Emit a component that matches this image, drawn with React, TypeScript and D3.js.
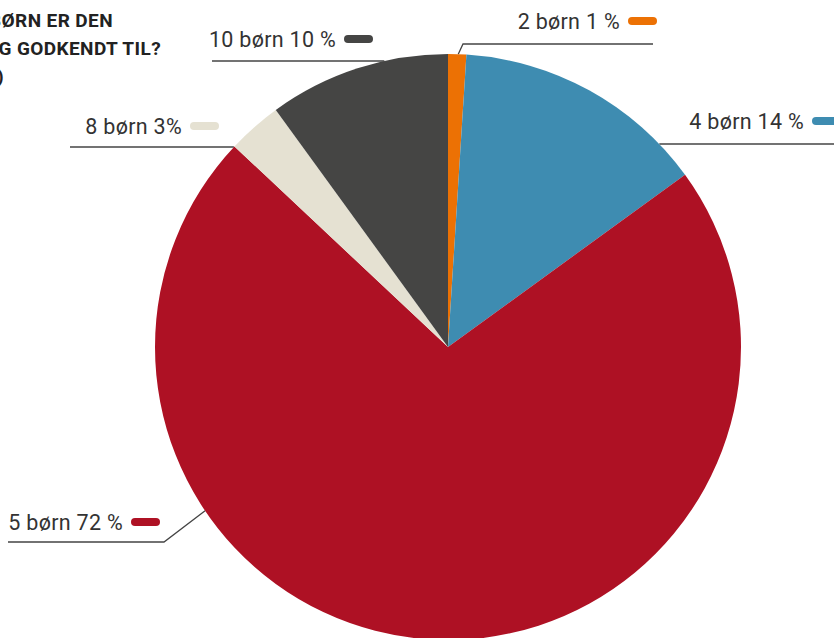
import React from "react";
import * as d3 from "d3";

const categories = ["2 børn", "4 børn", "5 børn", "8 børn", "10 børn"];
const percents = [1, 14, 72, 3, 10];
const percentLabels = ["1 %", "14 %", "72 %", "3%", "10 %"];
const colors = ["#EC7104", "#3E8CB1", "#AE1124", "#E5E1D2", "#454544"];
const titleLines = ["HVOR MANGE BØRN ER DEN", "KOMMUNALE DAGPLEJER OG GODKENDT TIL?", "(N=190)"];

// label layout: pill x, text baseline, leader line y, line far end x, optional elbow x and edge angle (deg)
const labelLayout = [
  { pillX: 628, baseline: 29, lineY: 44, farX: 653, elbowX: 463, edgeDeg: 2.0 },
  { pillX: 812, baseline: 129, lineY: 144, farX: 840, elbowX: null, edgeDeg: null },
  { pillX: 131, baseline: 530, lineY: 542, farX: 8, elbowX: 164, edgeDeg: 236 },
  { pillX: 190, baseline: 134, lineY: 147, farX: 70, elbowX: null, edgeDeg: null },
  { pillX: 344, baseline: 47, lineY: 61, farX: 212, elbowX: null, edgeDeg: null },
];

const W = 834;
const H = 638;
const cx = 448;
const cy = 347;
const R = 293;

export default function App() {
  const data = categories.map((c, i) => ({ c, v: percents[i], i }));
  const pie = d3.pie<any>().value((d) => d.v).sort(null).startAngle(0).endAngle(2 * Math.PI);
  const arcs = pie(data);
  const arc = d3.arc<any>().innerRadius(0).outerRadius(R);

  const leaders = labelLayout.map((l, i) => {
    let pts: [number, number][];
    if (l.elbowX !== null && l.edgeDeg !== null) {
      const a = (l.edgeDeg * Math.PI) / 180;
      const ex = cx + R * Math.sin(a);
      const ey = cy - R * Math.cos(a);
      pts = [
        [l.farX, l.lineY],
        [l.elbowX, l.lineY],
        [ex, ey],
      ];
    } else {
      const dy = l.lineY - cy;
      const dx = Math.sqrt(Math.max(0, R * R - dy * dy));
      const ex = l.farX < cx ? cx - dx : cx + dx;
      pts = [
        [l.farX, l.lineY],
        [ex, l.lineY],
      ];
    }
    return { pts, i };
  });

  const line = d3.line();

  return (
    <svg
      width={W}
      height={H}
      style={{ position: "absolute", left: 0, top: 0, background: "#fff" }}
      fontFamily="Roboto, 'DejaVu Sans', sans-serif"
    >
      <g>
        {titleLines.map((t, i) => (
          <text
            key={i}
            x={[113, 161, 4][i]}
            y={27 + i * 28}
            textAnchor="end"
            fontSize={19}
            fontWeight={700}
            letterSpacing={0.4}
            fill="#222"
          >
            {t}
          </text>
        ))}
      </g>
      <g>
        {leaders.map((l) => (
          <path key={l.i} d={line(l.pts) || ""} fill="none" stroke="#444" strokeWidth={1.3} />
        ))}
      </g>
      <g transform={`translate(${cx},${cy})`}>
        {arcs.map((a, i) => (
          <path key={i} d={arc(a) || ""} fill={colors[i]} />
        ))}
      </g>
      <g>
        {labelLayout.map((l, i) => (
          <g key={i}>
            <text
              x={l.pillX - 8}
              y={l.baseline}
              textAnchor="end"
              fontSize={21.5}
              letterSpacing={0.3}
              fill="#333"
            >
              {`${categories[i]} ${percentLabels[i]}`}
            </text>
            <rect x={l.pillX} y={l.baseline - 12} width={29} height={8} rx={4} fill={colors[i]} />
          </g>
        ))}
      </g>
    </svg>
  );
}
